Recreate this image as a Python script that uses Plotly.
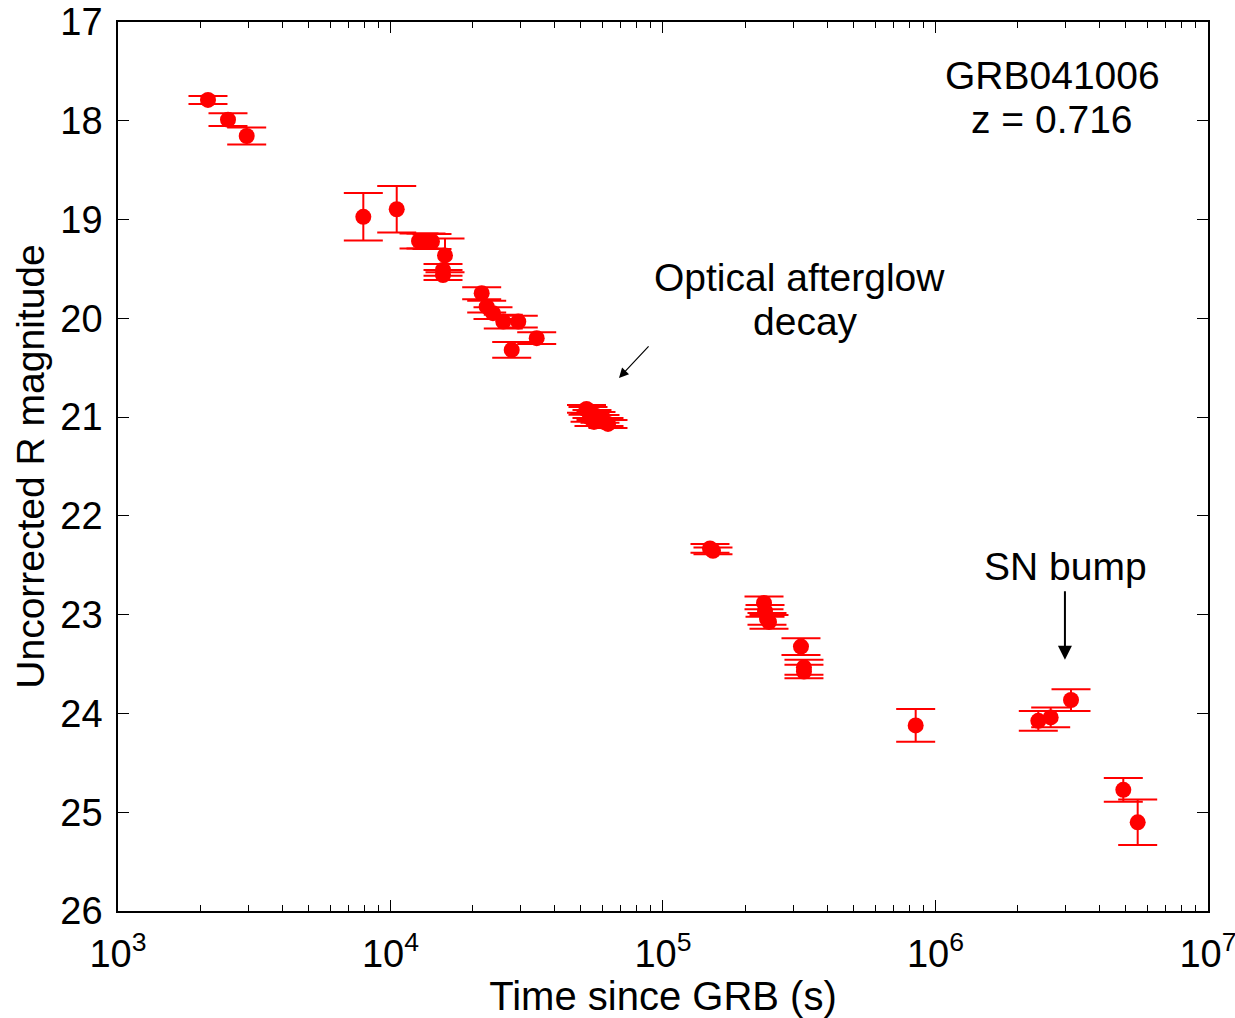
import plotly.graph_objects as go

# Observed time since GRB (s), uncorrected R magnitude and 1-sigma error
time_s = [2139, 2533, 2967, 7948, 10540, 12725, 13500, 14200, 15850, 15585,
          15585, 21610, 22545, 23775, 25935, 29440, 34400, 27850,
          52400, 53065, 54880, 56770, 58720, 60740, 55820, 53980, 62830,
          148750, 152560, 234800, 236800, 240800, 244900, 320900, 329100, 329100,
          845900, 2384000, 2647000, 3143000, 4889000, 5521000]
r_mag = [17.789, 17.989, 18.154, 18.972, 18.896, 19.217, 19.217, 19.222, 19.363, 19.510,
         19.561, 19.746, 19.882, 19.948, 20.033, 20.033, 20.201, 20.320,
         20.917, 20.937, 20.968, 20.988, 21.018, 21.049, 21.049, 21.008, 21.069,
         22.329, 22.354, 22.881, 22.962, 23.043, 23.073, 23.323, 23.533, 23.576,
         24.121, 24.075, 24.040, 23.864, 24.773, 25.102]
r_err = [0.04, 0.065, 0.085, 0.24, 0.235, 0.075, 0.075, 0.075, 0.17, 0.06,
         0.05, 0.06, 0.06, 0.06, 0.07, 0.06, 0.06, 0.08,
         0.04, 0.04, 0.04, 0.04, 0.04, 0.04, 0.04, 0.04, 0.04,
         0.045, 0.035, 0.065, 0.06, 0.06, 0.07, 0.085, 0.076, 0.068,
         0.165, 0.10, 0.10, 0.11, 0.12, 0.23]

x_tickvals = [1e3, 1e4, 1e5, 1e6, 1e7]
x_ticktext = ["10<sup>3</sup>", "10<sup>4</sup>", "10<sup>5</sup>", "10<sup>6</sup>", "10<sup>7</sup>"]
x_minor_vals = [m * 10 ** d for d in (3, 4, 5, 6) for m in range(2, 10)]
y_tickvals = [17, 18, 19, 20, 21, 22, 23, 24, 25, 26]

FONT = "Liberation Sans, Arial, Helvetica, sans-serif"

fig = go.Figure()
fig.add_trace(go.Scatter(
    x=time_s, y=r_mag, mode="markers",
    marker=dict(color="#ff0000", size=16, line=dict(width=0)),
    error_y=dict(type="data", array=r_err, visible=True, color="#ff0000",
                 thickness=2, width=19.5),
    showlegend=False,
))

fig.update_layout(
    width=1235, height=1018,
    margin=dict(l=118, r=27, t=22, b=107),
    paper_bgcolor="white", plot_bgcolor="white",
    font=dict(family=FONT, size=38, color="black"),
    xaxis=dict(
        type="log", range=[3, 7.00005], automargin=False,
        tickmode="array", tickvals=x_tickvals, ticktext=x_ticktext,
        ticks="inside", ticklen=11, tickwidth=1.2, tickcolor="black",
        ticklabelstandoff=9, ticklabeloverflow="allow",
        minor=dict(tickmode="array", tickvals=x_minor_vals, ticks="inside", ticklen=6,
                   tickwidth=1.2, tickcolor="black", showgrid=False),
        showline=True, linecolor="black", linewidth=1.5, mirror="ticks",
        showgrid=False, zeroline=False,
        tickfont=dict(family=FONT, size=38),
        title=dict(text="Time since GRB (s)", font=dict(family=FONT, size=40), standoff=4),
    ),
    yaxis=dict(
        range=[26, 17], autorange=False, automargin=False,
        tickvals=y_tickvals,
        ticks="inside", ticklen=11, tickwidth=1.2, tickcolor="black",
        ticklabelstandoff=6, ticklabeloverflow="allow",
        showline=True, linecolor="black", linewidth=1.5, mirror="ticks",
        showgrid=False, zeroline=False,
        tickfont=dict(family=FONT, size=38),
        title=dict(text="Uncorrected R magnitude", font=dict(family=FONT, size=39), standoff=4),
    ),
)

def label(xp, yp, txt):
    fig.add_annotation(xref="paper", yref="paper", x=xp, y=yp, text=txt,
                       xanchor="center", yanchor="middle", showarrow=False,
                       font=dict(size=39))

label(0.857, 0.940, "GRB041006")
label(0.857, 0.890, "z = 0.716")
label(0.625, 0.713, "Optical afterglow")
label(0.631, 0.663, "decay")
label(0.869, 0.387, "SN bump")

# arrows
fig.add_annotation(x=4.8385, y=20.603, xref="x", yref="y", text="",
                   showarrow=True, ax=31, ay=-33, arrowhead=2, arrowsize=1.6,
                   arrowwidth=1.2, arrowcolor="black")
fig.add_annotation(x=6.475, y=23.457, xref="x", yref="y", text="",
                   showarrow=True, ax=0, ay=-70, arrowhead=2, arrowsize=1.4,
                   arrowwidth=2, arrowcolor="black")

fig.write_html("out.html")
